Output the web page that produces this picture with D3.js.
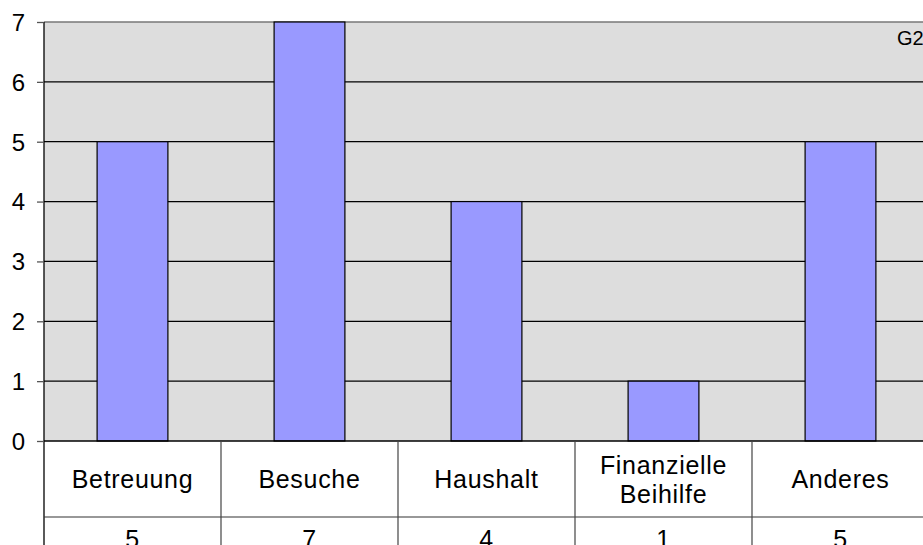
<!DOCTYPE html>
<html>
<head>
<meta charset="utf-8">
<script src="https://cdn.jsdelivr.net/npm/d3@7"></script>
<style>
  body { margin: 0; background: #fff; }
  svg { display: block; font-family: "Liberation Sans", Arial, sans-serif; }
</style>
</head>
<body>
<svg id="chart" width="923" height="545"></svg>
<script>

// Chart data
const categories = ["Betreuung", "Besuche", "Haushalt", "Finanzielle Beihilfe", "Anderes"];
const values = [5, 7, 4, 1, 5];
const yTicks = [0, 1, 2, 3, 4, 5, 6, 7];
const chartTag = "G2";

// Draw chart
function drawChart(svgId) {

	const svg = d3.select(svgId),
		width = +svg.attr("width"),
		height = +svg.attr("height");

	const left = 44, top = 22, bottom = 441, right = 929;
	const rowH = 76;

	const x = d3.scaleBand()
		.domain(categories)
		.range([left, right])
		.paddingInner(0)
		.paddingOuter(0);

	const y = d3.scaleLinear()
		.domain([0, 7])
		.range([bottom, top]);

	// Plot background
	svg.append("rect")
		.attr("x", left)
		.attr("y", top)
		.attr("width", right - left)
		.attr("height", bottom - top)
		.attr("fill", "#dddddd");

	// Gridlines
	svg.append("g")
		.selectAll("line")
		.data(yTicks.filter(d => d > 0))
		.join("line")
		.attr("x1", left)
		.attr("x2", right)
		.attr("y1", d => y(d))
		.attr("y2", d => y(d))
		.attr("stroke", d => d === 7 ? "#777" : "#000")
		.attr("stroke-width", 1.3);

	// Bars
	const barW = x.bandwidth() * 0.4;
	svg.append("g")
		.selectAll("rect")
		.data(values)
		.join("rect")
		.attr("x", (d, i) => x(categories[i]) + (x.bandwidth() - barW) / 2)
		.attr("y", d => y(d))
		.attr("width", barW)
		.attr("height", d => y(0) - y(d))
		.attr("fill", "#9999ff")
		.attr("stroke", "#000")
		.attr("stroke-width", 1.2);

	// Y axis
	const yAxis = svg.append("g")
		.attr("transform", `translate(${left},0)`)
		.call(d3.axisLeft(y).tickValues(yTicks).tickSize(7).tickPadding(12).tickFormat(d3.format("d")));
	yAxis.attr("font-size", 24).attr("font-family", "Liberation Sans, Arial, sans-serif");
	yAxis.select(".domain").attr("stroke", "#000").attr("stroke-width", 1.3)
		.attr("d", `M0,${top}V${height}`);
	yAxis.selectAll(".tick line").attr("stroke", "#555").attr("stroke-width", 1.3);
	yAxis.selectAll(".tick text")
		.attr("fill", "#000")
		.attr("dy", "0.35em");

	// Data table below axis
	const table = svg.append("g")
		.attr("font-size", 25)
		.attr("letter-spacing", "0.7px");
	table.append("line")
		.attr("x1", left).attr("x2", right)
		.attr("y1", bottom).attr("y2", bottom)
		.attr("stroke", "#000").attr("stroke-width", 1.3);
	table.append("line")
		.attr("x1", left).attr("x2", right)
		.attr("y1", bottom + rowH).attr("y2", bottom + rowH)
		.attr("stroke", "#333").attr("stroke-width", 1.2);
	table.selectAll(".sep")
		.data(categories.slice(1))
		.join("line")
		.attr("class", "sep")
		.attr("x1", d => x(d)).attr("x2", d => x(d))
		.attr("y1", bottom).attr("y2", height)
		.attr("stroke", "#444").attr("stroke-width", 1.2);

	// Category labels (wrap two-word labels)
	categories.forEach(c => {
		const words = c.split(" ");
		const cx = x(c) + x.bandwidth() / 2;
		const t = table.append("text")
			.attr("x", cx)
			.attr("text-anchor", "middle")
			.attr("fill", "#000");
		words.forEach((w, i) => {
			t.append("tspan")
				.attr("x", cx)
				.attr("y", bottom + 47 + (i - (words.length - 1) / 2) * 29)
				.text(w);
		});
	});

	// Values row
	table.selectAll(".val")
		.data(values)
		.join("text")
		.attr("class", "val")
		.attr("x", (d, i) => x(categories[i]) + x.bandwidth() / 2)
		.attr("y", bottom + rowH + 31)
		.attr("text-anchor", "middle")
		.attr("fill", "#000")
		.text(d => d);

	// Tag
	svg.append("text")
		.attr("x", 897)
		.attr("y", 45)
		.attr("font-size", 20)
		.attr("fill", "#000")
		.text(chartTag);
}

drawChart("#chart");
</script>
</body>
</html>
